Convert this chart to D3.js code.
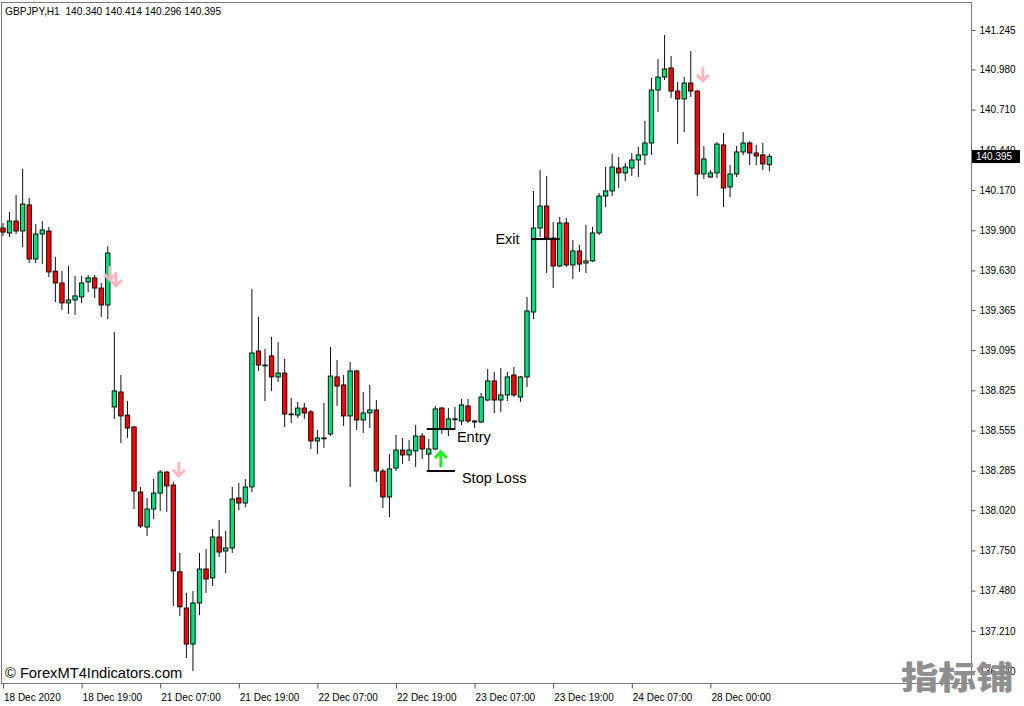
<!DOCTYPE html>
<html><head><meta charset="utf-8">
<script src="https://cdn.jsdelivr.net/npm/d3@7"></script>
<style>
body{margin:0;background:#fff;}
svg{display:block;}
</style>
</head><body>
<svg id="chart" width="1024" height="706"></svg>
<script>
// ---------- DATA ----------
const symbolTitle = "GBPJPY,H1  140.340 140.414 140.296 140.395";
const opens = [139.915,139.882,139.962,139.895,140.070,139.707,139.875,139.895,139.626,139.546,
139.412,139.432,139.452,139.553,139.580,139.512,139.398,138.713,138.814,138.659,
138.579,138.142,137.907,138.028,138.135,138.276,138.189,137.606,137.363,137.121,
137.397,137.625,137.565,137.840,137.746,137.766,138.102,138.068,138.176,139.089,
138.995,139.056,138.915,138.941,138.666,138.659,138.706,138.680,138.485,138.505,
138.532,138.915,138.861,138.653,138.955,138.626,138.673,138.693,138.283,138.109,
138.303,138.424,138.391,138.418,138.518,138.397,138.431,138.706,138.565,138.633,
138.619,138.720,138.619,138.612,138.760,138.888,138.760,138.794,138.928,138.780,
138.915,139.351,139.915,140.063,139.848,139.660,139.949,139.667,139.761,139.680,
139.694,139.882,140.130,140.164,140.318,140.285,140.318,140.372,140.406,140.486,
140.842,140.929,140.990,140.835,140.782,140.889,140.835,140.278,140.258,140.285,
140.473,140.191,140.278,140.426,140.486,140.419,140.406,140.340];
const highs = [139.949,140.023,140.137,140.311,140.117,139.942,139.962,139.922,139.720,139.626,
139.660,139.593,139.593,139.600,139.600,139.546,139.794,139.217,138.928,138.753,
138.586,138.176,138.102,138.229,138.290,138.283,138.211,137.733,137.464,137.477,
137.733,137.759,137.894,137.954,137.880,138.176,138.203,138.229,139.506,139.318,
139.103,139.183,139.150,139.036,138.774,138.747,138.740,138.693,138.559,138.740,
139.116,139.029,138.928,139.015,138.962,138.814,138.861,138.760,138.297,138.397,
138.525,138.505,138.491,138.592,138.539,138.498,138.720,138.713,138.706,138.713,
138.767,138.767,138.626,138.807,138.968,138.948,138.975,138.948,138.982,138.921,
139.452,140.164,140.305,140.265,139.956,139.989,139.982,139.835,139.801,139.935,
139.922,140.150,140.325,140.412,140.392,140.352,140.419,140.459,140.634,140.923,
141.050,141.211,141.070,140.896,140.929,141.104,140.842,140.466,140.305,140.493,
140.553,140.338,140.466,140.560,140.499,140.473,140.486,140.414];
const lows = [139.862,139.855,139.875,139.788,139.680,139.680,139.673,139.586,139.418,139.365,
139.338,139.331,139.412,139.485,139.445,139.318,139.304,138.633,138.471,138.505,
138.028,137.900,137.847,137.961,138.015,138.008,137.377,137.309,137.027,136.940,
137.316,137.464,137.511,137.706,137.598,137.733,138.021,138.041,138.142,138.955,
138.753,138.821,138.881,138.579,138.606,138.639,138.633,138.431,138.397,138.438,
138.518,138.720,138.586,138.176,138.559,138.539,138.572,138.209,138.035,137.974,
138.283,138.330,138.350,138.310,138.364,138.290,138.424,138.532,138.518,138.559,
138.592,138.606,138.572,138.606,138.753,138.673,138.680,138.753,138.780,138.747,
138.847,139.304,139.855,139.613,139.512,139.653,139.653,139.573,139.620,139.613,
139.687,139.868,140.056,140.130,140.184,140.231,140.265,140.258,140.338,140.406,
140.694,140.909,140.788,140.479,140.560,140.795,140.130,140.244,140.251,140.251,
140.056,140.123,140.258,140.406,140.338,140.338,140.305,140.296];
const closes = [139.888,139.962,139.895,140.076,139.707,139.875,139.902,139.620,139.546,139.412,
139.432,139.459,139.546,139.580,139.512,139.398,139.747,138.821,138.653,138.572,
138.149,137.914,138.028,138.135,138.276,138.183,137.612,137.371,137.121,137.397,
137.625,137.558,137.840,137.739,137.766,138.095,138.068,138.176,139.076,138.995,
138.989,138.915,138.941,138.666,138.666,138.706,138.673,138.485,138.505,138.505,
138.921,138.854,138.653,138.955,138.626,138.673,138.693,138.283,138.109,138.297,
138.424,138.391,138.424,138.518,138.431,138.431,138.700,138.565,138.633,138.633,
138.727,138.619,138.612,138.780,138.888,138.760,138.794,138.915,138.794,138.915,
139.358,139.915,140.063,139.848,139.660,139.949,139.667,139.761,139.673,139.694,
139.882,140.130,140.164,140.325,140.285,140.325,140.372,140.406,140.486,140.842,
140.929,140.983,140.835,140.782,140.889,140.835,140.278,140.379,140.285,140.479,
140.184,140.278,140.426,140.486,140.419,140.399,140.345,140.395];

const timeTickIndex = [0,12,24,36,48,60,72,84,96,108];
const timeTickLabels = ["18 Dec 2020","18 Dec 19:00","21 Dec 07:00","21 Dec 19:00","22 Dec 07:00",
  "22 Dec 19:00","23 Dec 07:00","23 Dec 19:00","24 Dec 07:00","28 Dec 00:00"];
const priceTicks = [141.245,140.980,140.710,140.440,140.170,139.900,139.630,139.365,139.095,
  138.825,138.555,138.285,138.020,137.750,137.480,137.210,136.940];
const lastPrice = 140.395;

const sellArrowIndex = [16.5,17.4,27,107];
const sellArrowPrice = [139.660,139.620,138.344,140.997];
const buyArrowIndex = [67];
const buyArrowPrice = [138.411];

const levelNames = ["Entry","Stop Loss","Exit"];
const levelPrices = [138.565,138.283,139.841];
const levelFrom = [65,65,81];
const levelTo = [69,69,85];

const copyright = "© ForexMT4Indicators.com";
const watermark = "指标铺";

// ---------- CHART ----------
const svg = d3.select("#chart");
const FONT = "'Liberation Sans', Arial, sans-serif";
const frame = {left:1.5, top:2.5, right:971.5, bottom:683.5};

const x = d3.scaleLinear().domain([0, 117]).range([3, 3 + 117*6.55]);
const y = d3.scaleLinear().domain([136.940, 141.245]).range([671, 30]);

const candles = opens.map((o,i)=>({i, o, h:highs[i], l:lows[i], c:closes[i]}));

// frame
svg.append("rect")
  .attr("x",frame.left).attr("y",frame.top)
  .attr("width",frame.right-frame.left).attr("height",frame.bottom-frame.top)
  .attr("fill","none").attr("stroke","#7a7a7a").attr("stroke-width",1);

// wicks
svg.append("g").selectAll("line").data(candles).join("line")
  .attr("x1",d=>x(d.i)).attr("x2",d=>x(d.i))
  .attr("y1",d=>y(d.h)).attr("y2",d=>y(d.l))
  .attr("stroke","#111").attr("stroke-width",1);

// bodies
const bw = 4.4;
svg.append("g").selectAll("rect").data(candles).join("rect")
  .attr("x",d=>x(d.i)-bw/2)
  .attr("y",d=>y(Math.max(d.o,d.c)))
  .attr("width",bw)
  .attr("height",d=>Math.max(Math.abs(y(d.o)-y(d.c)),0.8))
  .attr("fill",d=>d.c>d.o?"#00e07c":(d.c<d.o?"#ff0000":"#000"))
  .attr("stroke","#000").attr("stroke-width",0.9);

// level lines
svg.append("g").selectAll("line").data(levelNames).join("line")
  .attr("x1",(d,i)=>x(levelFrom[i])-2).attr("x2",(d,i)=>x(levelTo[i]))
  .attr("y1",(d,i)=>y(levelPrices[i])).attr("y2",(d,i)=>y(levelPrices[i]))
  .attr("stroke","#000").attr("stroke-width",2);

svg.append("g").selectAll("text").data(levelNames).join("text")
  .attr("x",(d,i)=> d==="Exit" ? x(levelFrom[i])-14 : (d==="Entry" ? x(levelTo[i])+2 : x(levelTo[i])+7))
  .attr("y",(d,i)=> d==="Exit" ? y(levelPrices[i])+5 : (d==="Entry" ? y(levelPrices[i])+13 : y(levelPrices[i])+12))
  .attr("text-anchor",d=>d==="Exit"?"end":"start")
  .attr("font-family",FONT).attr("font-size",14.5).attr("fill","#000")
  .text(d=>d);

// arrows
function downArrow(cx, top){
  return `M${cx},${top}L${cx},${top+14}M${cx-6},${top+8}L${cx},${top+14}L${cx+6},${top+8}`;
}
function upArrow(cx, top){
  return `M${cx},${top}L${cx},${top+15}M${cx-6},${top+6}L${cx},${top}L${cx+6},${top+6}`;
}
svg.append("g").selectAll("path").data(sellArrowIndex).join("path")
  .attr("d",(d,i)=>downArrow(x(d)-1, y(sellArrowPrice[i])))
  .attr("fill","none").attr("stroke","#ffb6c1").attr("stroke-width",3);
svg.append("g").selectAll("path").data(buyArrowIndex).join("path")
  .attr("d",(d,i)=>upArrow(x(d)-1, y(buyArrowPrice[i])))
  .attr("fill","none").attr("stroke","#22ee22").attr("stroke-width",3);

// right price axis
const yAxis = svg.append("g").attr("transform",`translate(${frame.right},0)`)
  .call(d3.axisRight(y).tickValues(priceTicks).tickSize(4).tickPadding(4).tickFormat(d3.format(".3f")));
yAxis.select(".domain").remove();
yAxis.selectAll("line").attr("stroke","#555");
yAxis.selectAll("text").attr("font-family",FONT).attr("font-size",10).attr("fill","#000");

// current price label
const lp = svg.append("g");
lp.append("rect").attr("x",972).attr("y",y(lastPrice)-6.5).attr("width",48).attr("height",13).attr("fill","#000");
lp.append("text").attr("x",976).attr("y",y(lastPrice)+3.6)
  .attr("font-family",FONT).attr("font-size",10).attr("fill","#fff").text(d3.format(".3f")(lastPrice));

// bottom time axis
const xAxis = svg.append("g").attr("transform",`translate(0,${frame.bottom})`)
  .call(d3.axisBottom(x).tickValues(timeTickIndex).tickSize(5).tickPadding(5)
    .tickFormat((d,i)=>timeTickLabels[i]));
xAxis.select(".domain").remove();
xAxis.selectAll("line").attr("stroke","#555");
xAxis.selectAll("text").attr("text-anchor","start").attr("x",0.5)
  .attr("font-family",FONT).attr("font-size",10).attr("fill","#000");

// title
svg.append("text").attr("x",5).attr("y",14.5)
  .attr("font-family",FONT).attr("font-size",10.2).attr("fill","#000")
  .attr("xml:space","preserve").style("white-space","pre").text(symbolTitle);

// copyright
svg.append("text").attr("x",5).attr("y",678)
  .attr("font-family",FONT).attr("font-size",14.7).attr("fill","#000").text(copyright);

// watermark
svg.append("text").attr("transform","translate(901,689) scale(1.25,1.05)")
  .attr("font-family","'Noto Sans CJK SC', sans-serif").attr("font-weight",900)
  .attr("font-size",30).attr("fill","#8a8a8a").attr("opacity",0.95).text(watermark);
</script>
</body></html>
